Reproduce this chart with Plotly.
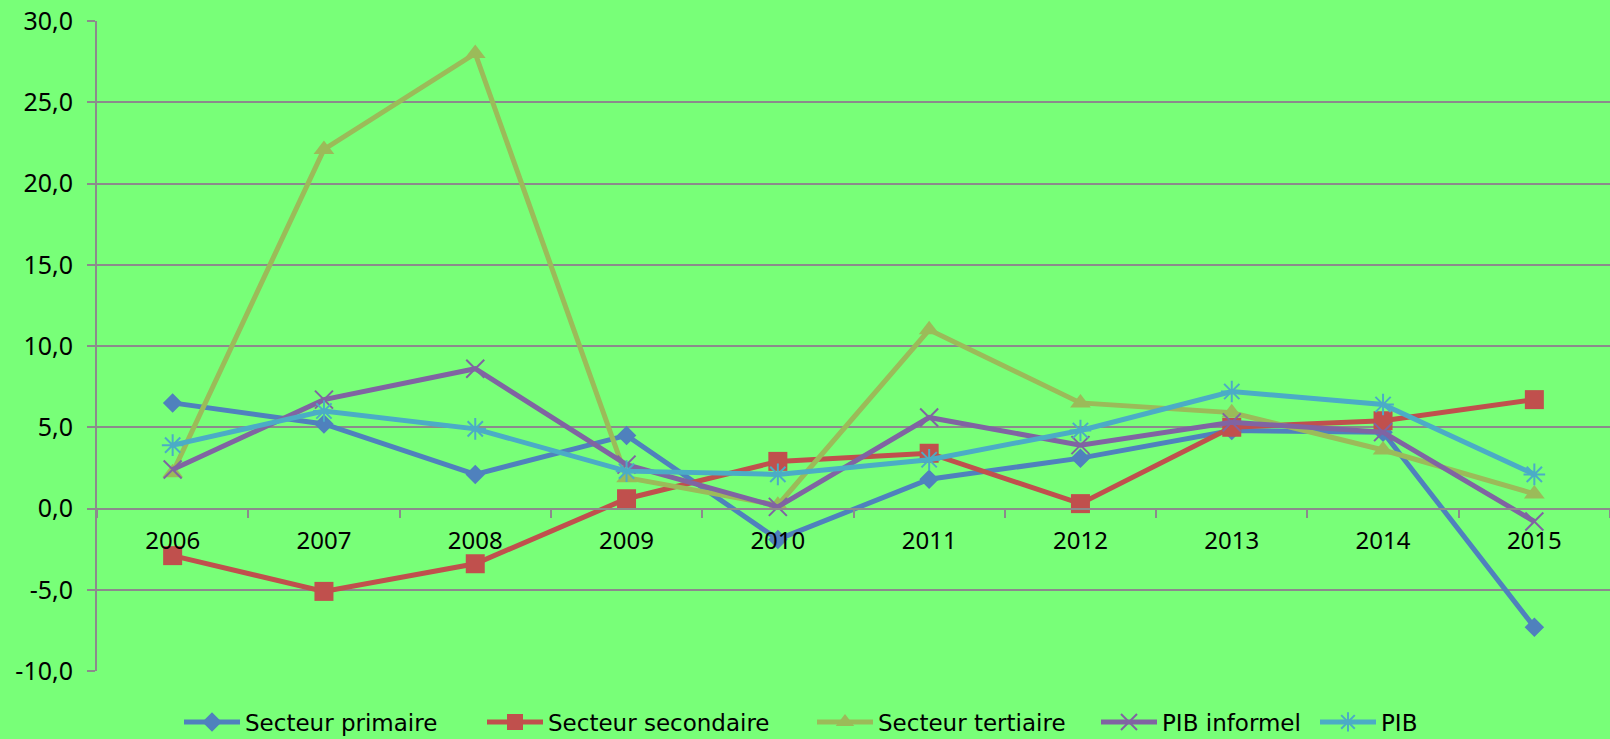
import plotly.graph_objects as go

years = ["2006", "2007", "2008", "2009", "2010", "2011", "2012", "2013", "2014", "2015"]
primaire = [6.5, 5.2, 2.1, 4.5, -1.9, 1.8, 3.1, 4.8, 4.7, -7.3]
secondaire = [-2.9, -5.1, -3.4, 0.6, 2.9, 3.4, 0.3, 5.0, 5.4, 6.7]
tertiaire = [2.2, 22.1, 28.0, 1.9, 0.2, 11.0, 6.5, 5.9, 3.6, 0.9]
pib_informel = [2.4, 6.7, 8.6, 2.7, 0.1, 5.6, 3.9, 5.3, 4.7, -0.8]
pib = [3.9, 6.0, 4.9, 2.3, 2.1, 3.0, 4.8, 7.2, 6.4, 2.1]

y_ticks = [-10, -5, 0, 5, 10, 15, 20, 25, 30]
y_tick_labels = ["-10,0", "-5,0", "0,0", "5,0", "10,0", "15,0", "20,0", "25,0", "30,0"]

series = [
    ("Secteur primaire", primaire, "#4F81BD", "diamond", 15, 0),
    ("Secteur secondaire", secondaire, "#C0504D", "square", 19, 0),
    ("Secteur tertiaire", tertiaire, "#9BBB59", "triangle-up", 18, 0),
    ("PIB informel", pib_informel, "#8064A2", "x-thin-open", 18, 2),
    ("PIB", pib, "#4BACC6", "asterisk-open", 18, 2),
]

# left pixel edge of each legend entry (layout only)
legend_left_px = [179, 482, 812, 1096, 1315]

W, H = 1610, 739
ML, MR, MT, MB = 97, 0, 21, 68
plot_w = W - ML - MR

fig = go.Figure()
legend_layouts = {}
FONT = "DejaVu Sans"
TICK_FONT = "Noto Sans"
for i, (name, vals, color, sym, size, lw) in enumerate(series):
    lg = "legend" if i == 0 else f"legend{i + 1}"
    fig.add_trace(go.Scatter(
        x=years, y=vals, name=name, mode="lines+markers",
        line=dict(color=color, width=5),
        marker=dict(symbol=sym, size=size, color=color,
                    line=dict(color=color, width=lw)),
        legend=lg,
    ))
    legend_layouts[lg] = dict(
        orientation="h", x=(legend_left_px[i] - ML) / plot_w, xanchor="left",
        yref="container", y=0.023, yanchor="middle", itemwidth=56,
        font=dict(size=23, family=FONT), bgcolor="rgba(0,0,0,0)",
    )

grid = "#8C8A8C"
y_min, y_max = y_ticks[0], y_ticks[-1]
zero_pos = (0 - y_min) / (y_max - y_min)

fig.update_layout(
    width=W, height=H,
    paper_bgcolor="#78FF78", plot_bgcolor="#78FF78",
    font=dict(family=FONT, color="black", size=23),
    margin=dict(l=ML, r=MR, t=MT, b=MB, autoexpand=False),
    showlegend=True,
    xaxis=dict(type="category", range=[-0.5, len(years) - 0.5],
               anchor="free", position=zero_pos,
               showgrid=False, showline=True, linecolor=grid, linewidth=2,
               ticks="outside", tickson="boundaries", ticklen=8,
               tickcolor=grid, tickwidth=2, ticklabelstandoff=11,
               tickfont=dict(size=24, family=TICK_FONT)),
    yaxis=dict(range=[y_min, y_max], tickvals=y_ticks, ticktext=y_tick_labels,
               showgrid=True, gridcolor=grid, gridwidth=2,
               zeroline=False, showline=True, linecolor=grid, linewidth=2,
               ticks="outside", ticklen=8, tickcolor=grid, tickwidth=2,
               ticklabelstandoff=9, tickfont=dict(size=25, family=TICK_FONT)),
    **legend_layouts,
)

fig.write_html(
    "out.html",
    config={"displayModeBar": False},
    post_script="document.body.style.margin='0';document.body.style.overflow='hidden';",
)
